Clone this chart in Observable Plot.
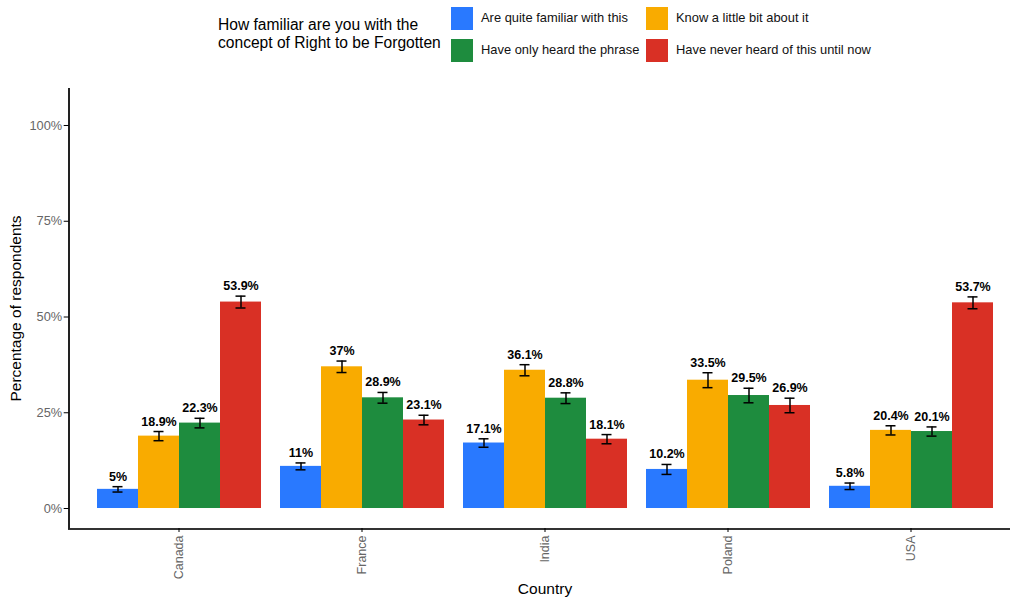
<!DOCTYPE html>
<html>
<head>
<meta charset="utf-8">
<script src="https://cdn.jsdelivr.net/npm/d3@7"></script>
<script src="https://cdn.jsdelivr.net/npm/@observablehq/plot@0.6"></script>
<style>
  html, body { margin: 0; padding: 0; background: #fff; overflow: hidden; }
  #wrap { position: relative; width: 1010px; height: 603px; overflow: hidden; font-family: "Liberation Sans", Arial, sans-serif; }
  #legend { position: absolute; left: 0; top: 0; width: 1010px; height: 88px; }
  #legend .title { position: absolute; left: 218px; top: 16px; font-size: 15.6px; line-height: 18px; color: #000; }
  #legend .sw { position: absolute; width: 22px; height: 23px; }
  #legend .lab { position: absolute; font-size: 12.9px; line-height: 16px; color: #111; white-space: nowrap; }
  #chart { position: absolute; left: 0; top: 88px; width: 1022px; height: 515px; }
  #chart svg { max-width: none !important; width: 1022px !important; height: 515px !important; }
  g[aria-label="y-axis tick label"], g[aria-label="fx-axis tick label"] { fill: #666; }
  g[aria-label="y-axis tick"], g[aria-label="fx-axis tick"] { stroke: #333; }
  g[aria-label="frame"], g[aria-label="frame"] * { shape-rendering: crispEdges; }
</style>
</head>
<body>
<div id="wrap">
  <div id="legend"></div>
  <div id="chart"></div>
</div>
<script>
// Survey: familiarity with the "Right to be Forgotten", by country (percent of respondents)
const countries = ["Canada", "France", "India", "Poland", "USA"];
const groups = [
  "Are quite familiar with this",
  "Know a little bit about it",
  "Have only heard the phrase",
  "Have never heard of this until now"
];
const colors = ["#2979ff", "#f9ab00", "#1e8c3e", "#d93025"];

const quiteFamiliar = [5, 11, 17.1, 10.2, 5.8];
const littleBit     = [18.9, 37, 36.1, 33.5, 20.4];
const onlyHeard     = [22.3, 28.9, 28.8, 29.5, 20.1];
const neverHeard    = [53.9, 23.1, 18.1, 26.9, 53.7];

// half-width of each error bar, in percentage points
const quiteFamiliarErr = [0.7, 0.9, 1.1, 1.3, 0.85];
const littleBitErr     = [1.2, 1.5, 1.45, 1.95, 1.2];
const onlyHeardErr     = [1.25, 1.4, 1.4, 1.9, 1.2];
const neverHeardErr    = [1.55, 1.25, 1.2, 1.9, 1.55];

const yTicks = [0, 25, 50, 75, 100];

const seriesValues = [quiteFamiliar, littleBit, onlyHeard, neverHeard];
const seriesErrors = [quiteFamiliarErr, littleBitErr, onlyHeardErr, neverHeardErr];

const data = [];
countries.forEach((country, i) => {
  groups.forEach((group, j) => {
    data.push({country, group, value: seriesValues[j][i], err: seriesErrors[j][i]});
  });
});

// legend above the plot
const legend = document.getElementById("legend");
const title = document.createElement("div");
title.className = "title";
title.innerHTML = "How familiar are you with the<br>concept of Right to be Forgotten";
legend.appendChild(title);
const legendCols = [451, 646];
const legendRows = [7, 39];
groups.forEach((g, k) => {
  const col = k % 2, row = Math.floor(k / 2);
  const sw = document.createElement("div");
  sw.className = "sw";
  sw.style.left = legendCols[col] + "px";
  sw.style.top = legendRows[row] + "px";
  sw.style.background = colors[k];
  legend.appendChild(sw);
  const lab = document.createElement("div");
  lab.className = "lab";
  lab.textContent = g;
  lab.style.left = (legendCols[col] + 30) + "px";
  lab.style.top = (legendRows[row] + 3) + "px";
  legend.appendChild(lab);
});

// Panel geometry: five country facets with an outer expansion of 0.1 facet
// on each side; the panel runs slightly past the right edge of the page.
const W = 1022, ML = 68, MR = 2;
const fxOuter = 0.1;
const outerPx = fxOuter * (W - ML - MR) / (countries.length + 2 * fxOuter);

const axisLine = {stroke: "#333", strokeWidth: 2};

const plot = Plot.plot({
  width: W,
  height: 515,
  marginTop: 0,
  marginLeft: ML,
  marginRight: MR,
  marginBottom: 75,
  style: {fontFamily: "'Liberation Sans', Arial, sans-serif", fontSize: "12.5px", background: "white"},
  fx: {domain: countries, paddingInner: 0, paddingOuter: fxOuter},
  x: {domain: groups, paddingInner: 0, paddingOuter: 0.2222, axis: null},
  y: {domain: [-5.22, 109.66]},
  color: {domain: groups, range: colors},
  marks: [
    Plot.barY(data, {fx: "country", x: "group", y: "value", fill: "group"}),
    Plot.ruleX(data, {fx: "country", x: "group", y1: d => d.value - d.err, y2: d => d.value + d.err, stroke: "black", strokeWidth: 1.5}),
    Plot.tickY(data, {fx: "country", x: "group", y: d => d.value - d.err, stroke: "black", strokeWidth: 1.5, inset: 15.5}),
    Plot.tickY(data, {fx: "country", x: "group", y: d => d.value + d.err, stroke: "black", strokeWidth: 1.5, inset: 15.5}),
    Plot.text(data, {
      fx: "country", x: "group", y: d => d.value + d.err,
      text: d => d.value + "%",
      dy: -6, lineAnchor: "bottom",
      fontWeight: "bold", fontSize: 12.5, fill: "black"
    }),
    // bottom axis line: one segment per facet, stretched through the outer expansion at both ends
    Plot.frame({anchor: "bottom", insetLeft: -1, insetRight: -1, ...axisLine}),
    Plot.frame({anchor: "bottom", facetAnchor: "left", insetLeft: -outerPx, ...axisLine}),
    Plot.frame({anchor: "bottom", facetAnchor: "right", insetRight: -outerPx, ...axisLine}),
    Plot.frame({anchor: "left", facetAnchor: "left", stroke: "#222", strokeWidth: 1.5, dx: -outerPx}),
    Plot.axisY({
      ticks: yTicks,
      tickFormat: d => d + "%",
      tickSize: 5,
      tickPadding: 2,
      fontSize: 12.8,
      dx: -outerPx,
      label: "Percentage of respondents",
      labelAnchor: "center",
      labelArrow: "none",
      labelOffset: 59 + outerPx
    }),
    Plot.axisFx({
      anchor: "bottom",
      tickRotate: -90,
      tickSize: 4,
      tickPadding: 3,
      fontSize: 12.5,
      label: "Country",
      labelAnchor: "center",
      labelArrow: "none",
      labelOffset: 65
    })
  ]
});

// axis titles in black at the larger size
plot.querySelectorAll('g[aria-label="y-axis label"], g[aria-label="fx-axis label"]').forEach(g => {
  g.setAttribute("fill", "black");
  g.setAttribute("font-size", "15.5px");
});

document.getElementById("chart").appendChild(plot);
</script>
</body>
</html>
